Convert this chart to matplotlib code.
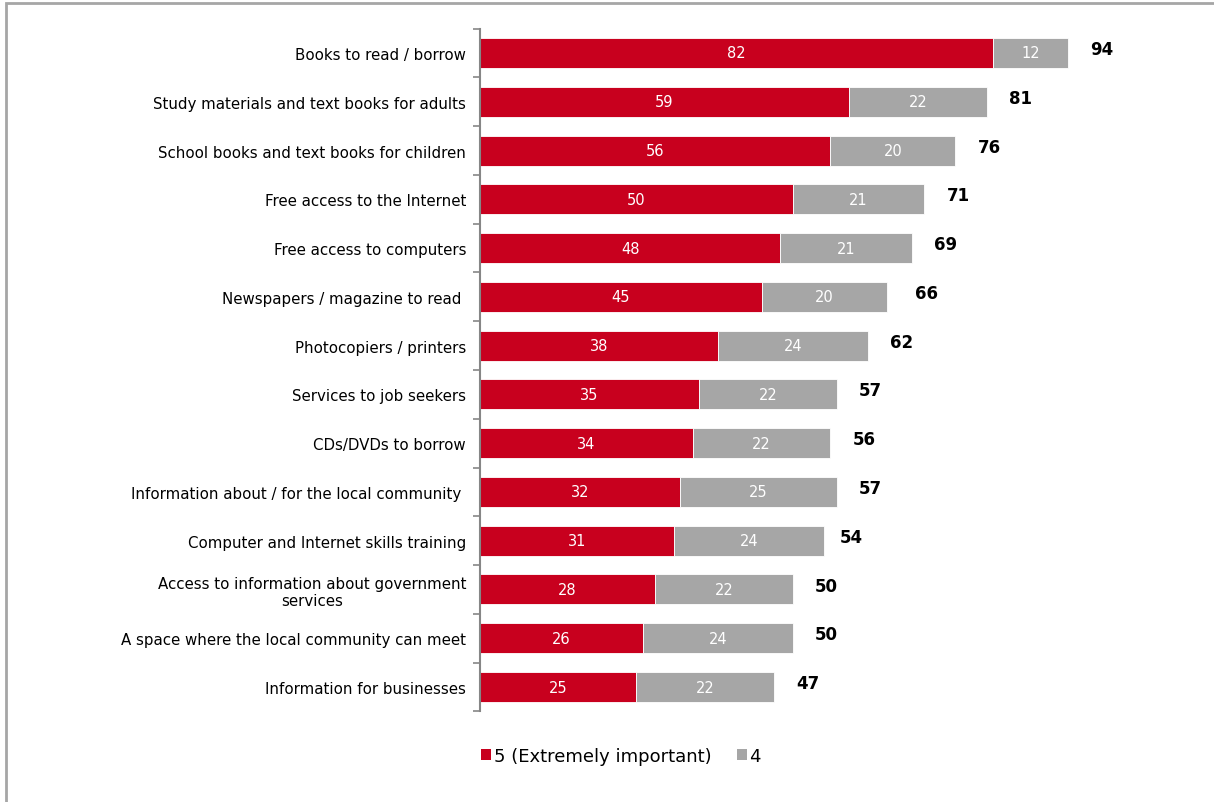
import matplotlib
matplotlib.use("Agg")
import matplotlib.pyplot as plt
from matplotlib.patches import Rectangle, Patch
import numpy as np

categories = [
    "Books to read / borrow",
    "Study materials and text books for adults",
    "School books and text books for children",
    "Free access to the Internet",
    "Free access to computers",
    "Newspapers / magazine to read ",
    "Photocopiers / printers",
    "Services to job seekers",
    "CDs/DVDs to borrow",
    "Information about / for the local community ",
    "Computer and Internet skills training",
    "Access to information about government\nservices",
    "A space where the local community can meet",
    "Information for businesses",
]
score5 = [82, 59, 56, 50, 48, 45, 38, 35, 34, 32, 31, 28, 26, 25]
score4 = [12, 22, 20, 21, 21, 20, 24, 22, 22, 25, 24, 22, 24, 22]
totals = [94, 81, 76, 71, 69, 66, 62, 57, 56, 57, 54, 50, 50, 47]
series_names = ["5 (Extremely important)", "4"]

RED = "#C8001E"
GREY = "#A6A6A6"
W, H = 1214, 803

fig = plt.figure(figsize=(W / 100, H / 100), dpi=100)
# axes placed in pixel terms: x from 480 to 1200, y from 29.6 to 712.4
ax = fig.add_axes([480 / W, 1 - 712.4 / H, 720 / W, (712.4 - 29.6) / H])

y = np.arange(len(categories))
ax.barh(y, score5, height=0.615, color=RED, edgecolor="white", linewidth=0.6)
ax.barh(y, score4, left=score5, height=0.615, color=GREY, edgecolor="white", linewidth=0.6)

for i in range(len(categories)):
    ax.text(score5[i] / 2, y[i], str(score5[i]), ha="center", va="center",
            color="white", fontsize=10.5)
    ax.text(score5[i] + score4[i] / 2, y[i], str(score4[i]), ha="center", va="center",
            color="white", fontsize=10.5)
    ax.text(totals[i] + 5.4, y[i] - 0.08, str(totals[i]), ha="center", va="center",
            color="black", fontsize=12, fontweight="bold")

ax.set_xlim(0, 720 / 6.256)
ax.set_ylim(13.5, -0.5)
ax.set_yticks(y)
ax.set_yticklabels(categories, fontsize=10.8, multialignment="center")
ax.set_yticks(np.arange(-0.5, 14, 1), minor=True)
ax.tick_params(axis="y", which="major", length=0, pad=10)
ax.tick_params(axis="y", which="minor", length=5, color="#868686", width=1.2)
ax.set_xticks([])
for s in ["top", "right", "bottom"]:
    ax.spines[s].set_visible(False)
ax.spines["left"].set_color("#868686")
ax.spines["left"].set_linewidth(1.5)

handles = [Patch(facecolor=RED), Patch(facecolor=GREY)]
fig.legend(handles, series_names, loc="center", bbox_to_anchor=(621 / W, 1 - 757 / H),
           ncol=2, frameon=False, fontsize=13, handlelength=0.55, handleheight=0.55,
           handletextpad=0.15, columnspacing=1.4)

# outer frame of the figure box
fig.patches.append(Rectangle((5.5 / W, -0.1), 1.2, 1 - 3.5 / H + 0.1,
                             transform=fig.transFigure, fill=False,
                             edgecolor=GREY, linewidth=2))

fig.savefig("out.png", dpi=100)
